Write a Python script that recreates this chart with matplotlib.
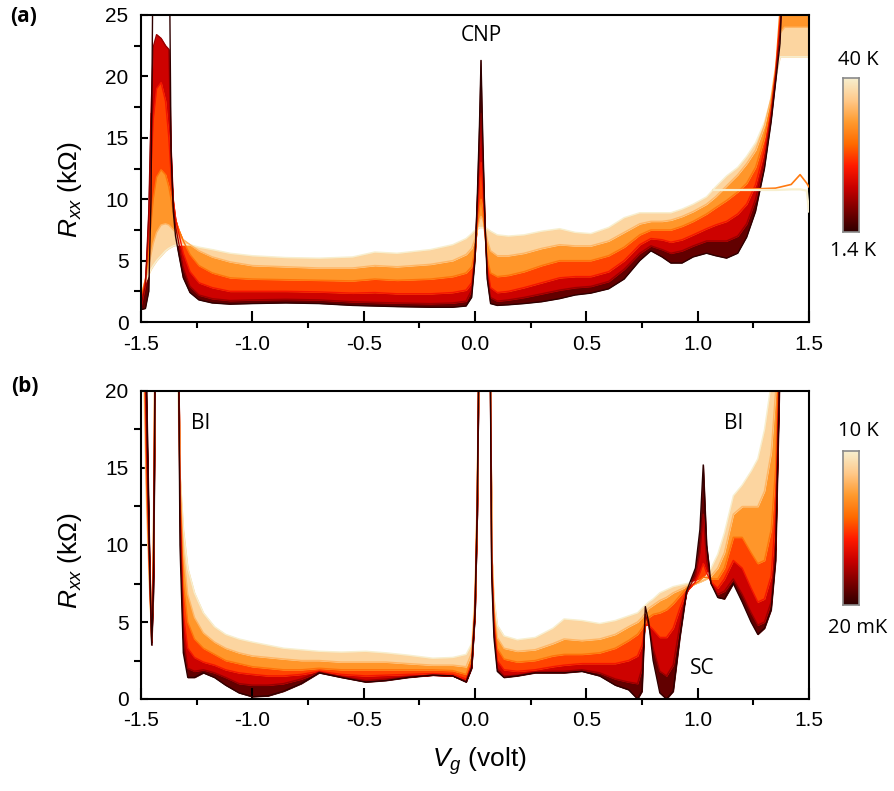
import numpy as np
import matplotlib
matplotlib.use("Agg")
import matplotlib.pyplot as plt
from matplotlib.colors import LinearSegmentedColormap
from matplotlib.ticker import MultipleLocator

# ---------------- panel (a): 1.4 K .. 40 K ----------------
va = [-1.50, -1.48, -1.465, -1.455, -1.445, -1.43, -1.41, -1.39, -1.375, -1.365,
      -1.355, -1.345, -1.33, -1.31, -1.28, -1.24, -1.18, -1.10, -1.00, -0.85,
      -0.70, -0.55, -0.45, -0.35, -0.20, -0.10, -0.04, -0.015, 0.00, 0.01,
      0.02, 0.027, 0.035, 0.045, 0.055, 0.07, 0.10, 0.15, 0.22, 0.30,
      0.38, 0.45, 0.52, 0.60, 0.67, 0.74, 0.79, 0.84, 0.88, 0.93,
      0.98, 1.04, 1.08, 1.13, 1.18, 1.22, 1.26, 1.30, 1.33, 1.35,
      1.37, 1.39, 1.42, 1.46, 1.50]
ra_1p4K = [1.0, 1.1, 2.5, 10, 32, 40, 40, 40, 35, 14,
           9.0, 7.0, 5.5, 3.6, 2.4, 1.8, 1.55, 1.45, 1.5, 1.55,
           1.5, 1.35, 1.3, 1.25, 1.2, 1.2, 1.3, 2.0, 5.0, 10,
           16, 21.3, 15, 8, 3.5, 1.5, 1.35, 1.4, 1.5, 1.65,
           1.9, 2.2, 2.35, 2.7, 3.5, 5.0, 5.8, 5.3, 4.8, 4.8,
           5.3, 5.6, 5.4, 5.2, 5.6, 6.9, 9.0, 12.5, 16.3, 19.5,
           22.7, 32, 40, 40, 40]
ra_4K = [1.3, 3.0, 9.0, 17, 22.4, 23.4, 23.1, 22.5, 22.2, 14,
         9.5, 7.8, 6.4, 4.4, 2.9, 2.2, 1.9, 1.75, 1.8, 1.85,
         1.8, 1.65, 1.6, 1.55, 1.5, 1.55, 1.7, 2.6, 5.5, 9.5,
         14, 17, 13, 8, 4, 2.0, 1.7, 1.8, 2.0, 2.3,
         2.6, 2.8, 2.9, 3.3, 4.3, 5.6, 6.2, 5.9, 5.6, 5.8,
         6.2, 6.6, 6.6, 6.6, 7.0, 8.0, 10.0, 13.2, 16.8, 20.0,
         23.5, 30, 35, 35, 35]
ra_8K = [1.6, 3.3, 7.5, 12.5, 16.5, 19.0, 19.5, 18.0, 15.0, 12.0,
         9.8, 8.4, 7.2, 5.6, 4.1, 3.2, 2.8, 2.5, 2.5, 2.5,
         2.45, 2.35, 2.4, 2.3, 2.3, 2.4, 2.6, 3.2, 5.5, 8.5,
         11.5, 13, 11, 7.5, 4.5, 2.8, 2.4, 2.5, 2.8, 3.2,
         3.6, 3.7, 3.7, 4.1, 5.0, 6.3, 6.8, 6.7, 6.5, 6.7,
         7.1, 7.6, 7.9, 8.2, 8.8, 9.6, 11.2, 14.0, 17.2, 20.2,
         24.5, 28, 30, 30, 30]
ra_15K = [1.9, 3.5, 5.8, 8.0, 10.0, 11.8, 12.4, 12.0, 11.0, 10.0,
          9.0, 8.3, 7.5, 6.6, 5.5, 4.6, 4.0, 3.6, 3.5, 3.45,
          3.4, 3.35, 3.5, 3.4, 3.5, 3.7, 4.0, 4.5, 6.0, 7.8,
          9.3, 10, 9.0, 7.0, 5.2, 4.0, 3.7, 3.8, 4.1, 4.6,
          5.0, 5.0, 5.0, 5.4, 6.1, 7.1, 7.5, 7.5, 7.5, 7.8,
          8.2, 8.8, 9.3, 9.9, 10.6, 11.3, 12.6, 15.0, 17.8, 20.5,
          25.5, 27, 27, 27, 27]
ra_25K = [2.1, 3.5, 4.6, 5.5, 6.4, 7.3, 7.9, 8.0, 7.9, 7.7,
          7.5, 7.3, 7.0, 6.7, 6.3, 5.8, 5.3, 4.9, 4.6, 4.5,
          4.4, 4.4, 4.6, 4.5, 4.7, 5.0, 5.5, 6.0, 6.8, 7.6,
          8.3, 8.6, 8.3, 7.6, 6.7, 5.8, 5.4, 5.4, 5.6, 6.0,
          6.3, 6.2, 6.2, 6.6, 7.3, 8.0, 8.2, 8.2, 8.3, 8.6,
          9.0, 9.6, 10.2, 11.1, 12.0, 12.9, 14.0, 16.0, 18.3, 20.8,
          23.5, 24, 24, 24, 24]
ra_40K = [2.3, 3.3, 3.9, 4.3, 4.6, 5.0, 5.4, 5.8, 6.0, 6.1,
          6.2, 6.25, 6.3, 6.3, 6.3, 6.1, 5.9, 5.6, 5.4, 5.25,
          5.2, 5.3, 5.7, 5.6, 5.9, 6.3, 6.8, 7.2, 7.5, 7.6,
          7.7, 7.7, 7.7, 7.7, 7.6, 7.4, 7.1, 7.0, 7.1, 7.4,
          7.6, 7.3, 7.2, 7.7, 8.5, 8.9, 8.9, 8.9, 8.9, 9.2,
          9.6, 10.2, 11.0, 11.9, 12.6, 13.5, 14.6, 16.3, 18.2, 20.0,
          21.6, 21.6, 21.6, 21.6, 21.6]
# two hot traces that stay flat beyond 1.07 V
va_flat = [1.07, 1.20, 1.35, 1.42, 1.46, 1.49, 1.50]
ra_flat_hot = [10.75, 10.75, 10.75, 10.8, 10.8, 10.7, 9.0]
ra_flat_warm = [10.75, 10.8, 10.9, 11.2, 12.0, 11.3, 11.0]

# ---------------- panel (b): 20 mK .. 10 K ----------------
vb = [-1.50, -1.49, -1.475, -1.462, -1.452, -1.444, -1.437, -1.42, -1.36, -1.335,
      -1.325, -1.31, -1.29, -1.26, -1.22, -1.17, -1.12, -1.06, -1.00, -0.93,
      -0.86, -0.78, -0.70, -0.60, -0.49, -0.40, -0.30, -0.19, -0.10, -0.04,
      -0.015, 0.00, 0.01, 0.03, 0.06, 0.075, 0.085, 0.10, 0.13, 0.19,
      0.27, 0.35, 0.40, 0.48, 0.56, 0.63, 0.69, 0.73, 0.75, 0.765,
      0.78, 0.80, 0.83, 0.86, 0.89, 0.92, 0.95, 0.99, 1.01, 1.025,
      1.04, 1.06, 1.09, 1.12, 1.16, 1.20, 1.24, 1.27, 1.30, 1.33,
      1.35, 1.37, 1.40, 1.45, 1.50]
rb_20mK = [40, 32, 20, 9.5, 3.5, 7, 20, 40, 40, 30,
           10, 3.0, 1.4, 1.4, 1.7, 1.4, 0.9, 0.4, 0.15, 0.2,
           0.5, 1.0, 1.7, 1.4, 1.1, 1.2, 1.4, 1.55, 1.5, 1.1,
           2.0, 5.5, 12, 40, 40, 8, 4.0, 1.8, 1.4, 1.5,
           1.7, 1.7, 1.7, 1.8, 1.5, 0.9, 0.6, 0.0, 0.5, 6.0,
           5.0, 2.5, 0.4, 0.0, 0.5, 4.0, 7.0, 8.5, 11.0, 15.2,
           10.0, 7.5, 6.6, 6.5, 7.5, 6.3, 5.0, 4.2, 4.6, 5.8,
           9, 22, 40, 40, 40]
rb_0p5K = [40, 30, 18, 9, 3.7, 8, 21, 40, 40, 30,
           12, 4.0, 2.0, 1.8, 1.9, 1.7, 1.4, 1.0, 0.9, 0.9,
           1.0, 1.3, 1.75, 1.45, 1.2, 1.3, 1.45, 1.55, 1.5, 1.15,
           2.1, 5.6, 12, 40, 40, 8.5, 4.5, 2.0, 1.5, 1.55,
           1.75, 1.8, 1.8, 1.9, 1.7, 1.3, 1.1, 1.0, 2.0, 5.5,
           4.8, 3.3, 1.8, 1.5, 2.2, 4.8, 6.9, 8.0, 9.5, 12.0,
           9.0, 7.5, 6.8, 7.0, 7.8, 6.8, 5.6, 4.8, 5.0, 6.3,
           10, 23, 40, 40, 40]
rb_1p5K = [40, 28, 16, 8.5, 3.8, 9, 22, 40, 40, 28,
           13, 5.5, 3.3, 2.7, 2.4, 2.2, 1.9, 1.7, 1.6, 1.5,
           1.5, 1.6, 1.8, 1.6, 1.5, 1.55, 1.6, 1.65, 1.6, 1.3,
           2.3, 5.8, 12.5, 40, 40, 9, 5.0, 2.5, 1.9, 1.8,
           1.9, 2.1, 2.2, 2.3, 2.3, 2.3, 2.5, 2.8, 3.5, 4.8,
           4.8, 4.5, 4.0, 4.0, 4.6, 5.9, 7.0, 7.6, 8.2, 8.8,
           8.2, 7.6, 7.2, 7.8, 9.0, 8.5, 7.2, 6.3, 6.5, 8.0,
           12, 24, 40, 40, 40]
rb_3K = [40, 26, 14, 8, 3.9, 10, 23, 40, 40, 26,
         14, 7.5, 5.0, 3.9, 3.3, 2.9, 2.5, 2.3, 2.1, 2.0,
         1.9, 1.9, 2.0, 1.9, 1.9, 1.9, 1.9, 1.9, 1.85, 1.6,
         2.6, 6.0, 13, 40, 40, 9.5, 5.5, 3.3, 2.6, 2.4,
         2.5, 2.8, 2.9, 2.9, 3.0, 3.3, 3.8, 4.2, 4.6, 5.0,
         5.3, 5.5, 5.6, 5.8, 6.2, 6.7, 7.2, 7.5, 7.7, 7.9,
         7.9, 7.8, 7.8, 8.5, 10.5, 10.5, 9.5, 8.8, 9.0, 11.0,
         15, 26, 40, 40, 40]
rb_6K = [40, 24, 13, 7.5, 4.0, 11, 24, 40, 40, 24,
         14.5, 9.5, 6.8, 5.3, 4.3, 3.7, 3.3, 3.0, 2.8, 2.7,
         2.6, 2.5, 2.5, 2.4, 2.4, 2.4, 2.3, 2.2, 2.2, 2.1,
         3.0, 6.5, 13.5, 40, 40, 9.5, 6.0, 4.0, 3.3, 3.1,
         3.2, 3.6, 3.9, 3.8, 3.9, 4.2, 4.7, 5.0, 5.3, 5.6,
         5.9, 6.1, 6.4, 6.6, 6.9, 7.1, 7.3, 7.5, 7.6, 7.7,
         7.8, 8.0, 8.5, 9.5, 12.0, 12.5, 12.5, 12.5, 13.5, 16.0,
         20, 30, 40, 40, 40]
rb_10K = [40, 21, 12, 7, 4.0, 12, 25, 40, 40, 20,
          14.5, 11.0, 8.5, 6.9, 5.6, 4.7, 4.2, 3.9, 3.7, 3.5,
          3.3, 3.2, 3.1, 3.05, 3.1, 3.0, 2.85, 2.65, 2.7, 2.9,
          3.6, 7.0, 14, 40, 40, 9.5, 6.5, 4.8, 4.1, 3.85,
          4.0, 4.6, 5.2, 5.1, 4.9, 5.1, 5.4, 5.6, 5.9, 6.1,
          6.3, 6.5, 6.9, 7.1, 7.3, 7.4, 7.5, 7.6, 7.7, 7.8,
          8.0, 8.5, 9.4, 10.8, 13.2, 13.9, 14.8, 15.6, 17.5, 20.5,
          25, 35, 40, 40, 40]

xticks = [-1.5, -1.0, -0.5, 0.0, 0.5, 1.0, 1.5]
xtick_labels = ['-1.5', '-1.0', '-0.5', '0.0', '0.5', '1.0', '1.5']

plt.rcParams['font.family'] = ['Liberation Sans', 'DejaVu Sans']
plt.rcParams['mathtext.fontset'] = 'custom'
plt.rcParams['mathtext.rm'] = 'Liberation Sans'
plt.rcParams['mathtext.it'] = 'Liberation Sans:italic'

cmap = LinearSegmentedColormap.from_list(
    'heat', ['#2e0000', '#7a0000', '#c80000', '#ff1a00', '#ff6a00',
             '#ff9a2e', '#ffc98a', '#f7efcf'])

W, H = 895, 791
fig = plt.figure(figsize=(W / 100, H / 100), dpi=100)


def px_rect(x0, y0, x1, y1):
    return [x0 / W, 1 - y1 / H, (x1 - x0) / W, (y1 - y0) / H]


def draw_band(ax, v, curves, ytop, mask_coldest=False):
    n = len(curves)
    v = np.array(v)
    for i in range(n - 1):
        lo = np.array(curves[i], dtype=float)
        hi = np.array(curves[i + 1], dtype=float)
        where = (lo < ytop) if (mask_coldest and i == 0) else None
        c = cmap((i + 0.5) / (n - 1))
        ax.fill_between(v, lo, hi, where=where, color=c, lw=0.6, zorder=1)
    for i in reversed(range(n)):
        ax.plot(v, curves[i], color=cmap(i / (n - 1)), lw=1.0, zorder=2)


def style_axis(ax, ytop):
    ax.set_xlim(-1.5, 1.5)
    ax.set_ylim(0, ytop)
    ax.set_xticks(xticks)
    ax.set_xticklabels(xtick_labels)
    ax.xaxis.set_minor_locator(MultipleLocator(0.25))
    ax.set_yticks(np.arange(0, ytop + 1, 5))
    ax.yaxis.set_minor_locator(MultipleLocator(2.5))
    ax.tick_params(direction='in', labelsize=15, width=1.5, pad=9,
                   top=False, right=False)
    ax.tick_params(axis='x', which='major', length=8)
    ax.tick_params(axis='x', which='minor', length=4.5, width=1.5)
    ax.tick_params(axis='y', which='both', length=5, width=1.5)
    for s in ax.spines.values():
        s.set_linewidth(1.5)
    ax.set_ylabel(r'$R_{xx}$ (kΩ)', fontsize=19)


def colorbar(rect, top_label, bottom_label, top_xy, bottom_xy):
    cax = fig.add_axes(px_rect(*rect))
    cax.imshow(np.linspace(0, 1, 256).reshape(-1, 1), cmap=cmap,
               origin='lower', aspect='auto')
    cax.set_xticks([])
    cax.set_yticks([])
    for s in cax.spines.values():
        s.set_color('#8a8a8a')
        s.set_linewidth(1.2)
    fig.text(top_xy[0] / W, 1 - top_xy[1] / H, top_label, ha='center',
             va='center', fontsize=14.5, family='Open Sans')
    fig.text(bottom_xy[0] / W, 1 - bottom_xy[1] / H, bottom_label, ha='center',
             va='center', fontsize=14.5, family='Open Sans')


# panel (a)
ax_a = fig.add_axes(px_rect(141, 15, 809, 322))
draw_band(ax_a, va, [ra_1p4K, ra_4K, ra_8K, ra_15K, ra_25K, ra_40K], 25,
          mask_coldest=True)
ax_a.plot(va_flat, ra_flat_warm, color=cmap(0.62), lw=1.2, zorder=3)
ax_a.plot(va_flat, ra_flat_hot, color=cmap(1.0), lw=1.6, zorder=3)
style_axis(ax_a, 25)
ax_a.yaxis.set_label_coords(-0.085, 0.43)
ax_a.text(0.027, 23.3, 'CNP', ha='center', va='center', fontsize=15,
          family='Open Sans')

# panel (b)
ax_b = fig.add_axes(px_rect(141, 391, 809, 699))
draw_band(ax_b, vb, [rb_20mK, rb_0p5K, rb_1p5K, rb_3K, rb_6K, rb_10K], 20)
style_axis(ax_b, 20)
ax_b.yaxis.set_label_coords(-0.085, 0.45)
ax_b.set_xlabel(r'$V_g$ (volt)', fontsize=19)
ax_b.xaxis.set_label_coords(0.506, -0.150)
ax_b.text(-1.23, 17.9, 'BI', ha='center', va='center', fontsize=15,
          family='Open Sans')
ax_b.text(1.16, 17.9, 'BI', ha='center', va='center', fontsize=15,
          family='Open Sans')
ax_b.text(1.02, 2.0, 'SC', ha='center', va='center', fontsize=15,
          family='Open Sans')

colorbar((843, 78, 859, 232), '40 K', '1.4 K', (858, 60), (853, 251))
colorbar((843, 451, 859, 605), '10 K', '20 mK', (858, 431), (858, 628))

fig.text(24 / W, 1 - 16 / H, '(a)', ha='center', va='center', fontsize=15,
         fontweight='bold', family='Open Sans')
fig.text(25 / W, 1 - 386 / H, '(b)', ha='center', va='center', fontsize=15,
         fontweight='bold', family='Open Sans')

fig.savefig('out.png', dpi=100)
